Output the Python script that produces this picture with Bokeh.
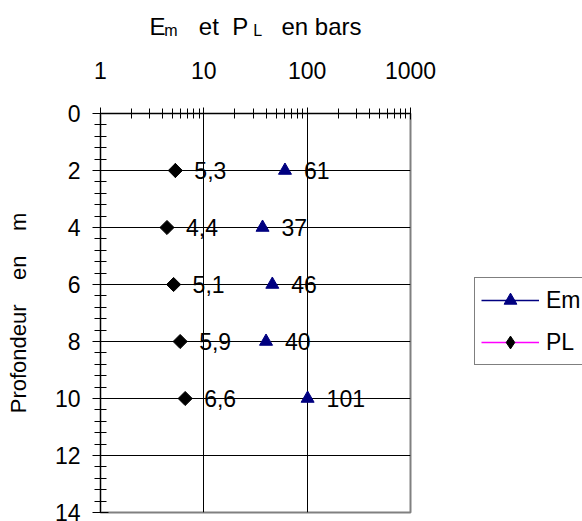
from bokeh.plotting import figure
from bokeh.models import (Range1d, FixedTicker, NumeralTickFormatter, Legend, LogAxis,
                          LegendItem, ColumnDataSource)
from bokeh.core.properties import value
from bokeh.embed import file_html
from bokeh.resources import INLINE
import math

depths = [2, 4, 6, 8, 10]
em_values = [61, 37, 46, 40, 101]
pl_values = [5.3, 4.4, 5.1, 5.9, 6.6]
x_ticks = [1, 10, 100, 1000]
y_ticks = [0, 2, 4, 6, 8, 10, 12, 14]

FONT = "Liberation Sans"
FS = "23px"
NB = "\u00a0"


def fmt(v):
    return f"{v:g}".replace(".", ",")


p = figure(frame_width=310, frame_height=399, x_axis_type="log", x_axis_location="above",
           x_range=Range1d(1, 1000), y_range=Range1d(14, 0),
           output_backend="svg", toolbar_location=None,
           min_border_left=100, min_border_top=113,
           min_border_right=172, min_border_bottom=9)
p.background_fill_color = "white"
p.border_fill_color = "white"
p.outline_line_color = "#808080"
p.outline_line_width = 2

x_minor = [m * d for d in (1, 10, 100) for m in range(2, 10)]
y_minor = [round(i * 0.4, 2) for i in range(0, 36) if round(i * 0.4, 2) not in y_ticks]

xa = p.xaxis[0]
xa.ticker = FixedTicker(ticks=x_ticks, minor_ticks=x_minor)
xa.formatter = NumeralTickFormatter(format="0")
ya = p.yaxis[0]
ya.ticker = FixedTicker(ticks=y_ticks, minor_ticks=y_minor)

for ax in (xa, ya):
    ax.axis_line_color = "black"
    ax.axis_line_width = 1
    ax.major_tick_line_color = "black"
    ax.minor_tick_line_color = "black"
    ax.major_label_text_font = FONT
    ax.major_label_text_font_size = FS
    ax.major_label_text_color = "black"
    ax.axis_label_text_font = FONT
    ax.axis_label_text_font_style = "normal"
    ax.axis_label_text_color = "black"

xa.major_tick_in = 6
xa.major_tick_out = 6
xa.minor_tick_in = 5
xa.minor_tick_out = 5
xa.major_label_standoff = 29
# subscripts of the title ("m" of Em and "L" of PL), padded to sit under the main title
xa.axis_label = "m" + NB * 17 + "L" + NB * 19
xa.axis_label_text_font_size = "16px"
xa.axis_label_standoff = 20

# outer (label-only) axis carrying the main title text
title_axis = LogAxis(ticker=FixedTicker(ticks=[]), axis_line_color=None,
                     major_tick_out=0, major_tick_in=0, minor_tick_out=0, minor_tick_in=0,
                     major_label_standoff=0,
                     axis_label="E" + NB * 5 + "et" + NB * 2 + "P" + NB * 5 + "en bars",
                     axis_label_text_font=FONT, axis_label_text_font_size="24px",
                     axis_label_text_font_style="normal", axis_label_text_color="black",
                     axis_label_standoff=-21)
p.add_layout(title_axis, "above")

ya.major_tick_in = 8
ya.major_tick_out = 8
ya.minor_tick_in = 6
ya.minor_tick_out = 6
ya.major_label_standoff = 12
ya.axis_label = "Profondeur" + NB * 4 + "en" + NB * 4 + "m"
ya.axis_label_text_font_size = "22px"
ya.axis_label_standoff = 21

p.xgrid.grid_line_color = "black"
p.xgrid.grid_line_width = 1
p.ygrid.grid_line_color = "black"
p.ygrid.grid_line_width = 1

em_src = ColumnDataSource(dict(x=em_values, y=depths, t=[fmt(v) for v in em_values]))
pl_src = ColumnDataSource(dict(x=pl_values, y=depths, t=[fmt(v) for v in pl_values]))

# legend-only renderers: one-point sources (a one-point line draws nothing,
# the legend diamond sits hidden under the first PL marker)
em_first = ColumnDataSource(dict(x=em_values[:1], y=depths[:1]))
pl_first = ColumnDataSource(dict(x=pl_values[:1], y=depths[:1]))
em_line = p.line("x", "y", source=em_first, line_color="#000080", line_width=1.5)
pl_line = p.line("x", "y", source=pl_first, line_color="#FF00FF", line_width=1.5)
pl_leg = p.scatter("x", "y", source=pl_first, marker="diamond", size=14,
                   fill_color="black", line_color="black")

em_sc = p.scatter("x", "y", source=em_src, marker="triangle", size=13,
                  fill_color="#000080", line_color="#000080")
p.scatter("x", "y", source=pl_src, marker="square", size=10, angle=math.pi / 4,
          fill_color="black", line_color="black")

p.text("x", "y", text="t", source=em_src, x_offset=19, text_baseline="middle",
       text_font=value(FONT), text_font_size=FS, text_color="black")
p.text("x", "y", text="t", source=pl_src, x_offset=19, text_baseline="middle",
       text_font=value(FONT), text_font_size=FS, text_color="black")

legend = Legend(items=[LegendItem(label="Em", renderers=[em_line, em_sc]),
                       LegendItem(label="PL", renderers=[pl_line, pl_leg])],
                location=(64, 147), orientation="vertical",
                glyph_width=58, glyph_height=32, spacing=10, padding=6,
                label_standoff=7, label_text_font=FONT, label_text_font_size=FS,
                label_text_color="black", label_height=32,
                border_line_color="black", border_line_width=1,
                background_fill_color="white", background_fill_alpha=1, margin=0)
p.add_layout(legend, "right")

open("out.html", "w").write(file_html(p, INLINE))
